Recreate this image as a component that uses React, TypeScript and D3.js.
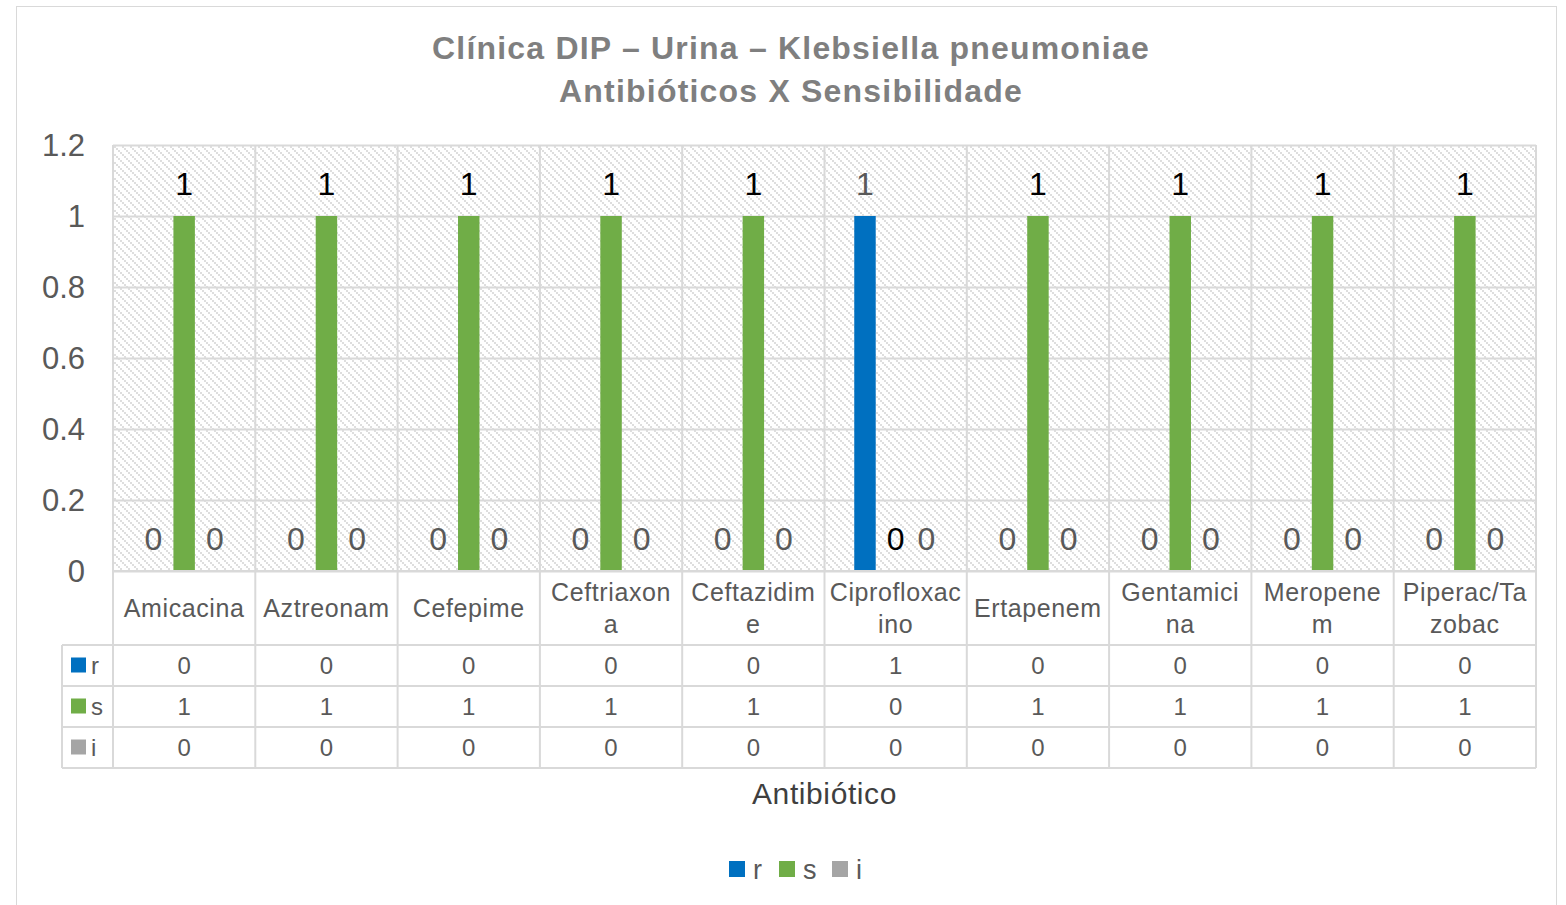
import * as d3 from 'd3';
import { useEffect, useRef } from 'react';

// chart data
const antibiotics = [
  'Amicacina', 'Aztreonam', 'Cefepime', 'Ceftriaxona', 'Ceftazidime',
  'Ciprofloxacino', 'Ertapenem', 'Gentamicina', 'Meropenem', 'Piperac/Tazobac',
];
// how the category labels wrap in the table cells
const labelLines = [
  ['Amicacina'], ['Aztreonam'], ['Cefepime'], ['Ceftriaxon', 'a'], ['Ceftazidim', 'e'],
  ['Ciprofloxac', 'ino'], ['Ertapenem'], ['Gentamici', 'na'], ['Meropene', 'm'], ['Piperac/Ta', 'zobac'],
];
const seriesNames = ['r', 's', 'i'];
const rValues = [0, 0, 0, 0, 0, 1, 0, 0, 0, 0];
const sValues = [1, 1, 1, 1, 1, 0, 1, 1, 1, 1];
const iValues = [0, 0, 0, 0, 0, 0, 0, 0, 0, 0];
const yTicks = [0, 0.2, 0.4, 0.6, 0.8, 1, 1.2];

const colors = ['#0070c0', '#70ad47', '#a5a5a5'];
const labelColors = ['#595959', '#000000', '#595959'];

export default function App() {
  const svgRef = useRef<SVGSVGElement>(null);

  useEffect(() => {
    if (!svgRef.current) return;
    const width = 1566;
    const height = 905;
    const plot = { left: 113, right: 1536, top: 145, bottom: 571 };
    const font = 'Liberation Sans, Arial, sans-serif';

    const svg = d3.select(svgRef.current)
      .attr('width', width)
      .attr('height', height);
    svg.selectAll('*').remove();

    const values = [rValues, sValues, iValues];

    // hatch pattern for the plot area
    const defs = svg.append('defs');
    const pat = defs.append('pattern')
      .attr('id', 'hatch')
      .attr('patternUnits', 'userSpaceOnUse')
      .attr('width', 8)
      .attr('height', 8);
    pat.append('rect').attr('width', 8).attr('height', 8).attr('fill', '#ffffff');
    for (let k = 0; k < 8; k += 2) {
      pat.append('rect')
        .attr('x', k).attr('y', k).attr('width', 2).attr('height', 2)
        .attr('fill', '#dedede');
    }

    // outer chart border
    svg.append('rect')
      .attr('x', 16.5).attr('y', 6.5)
      .attr('width', 1540).attr('height', 910)
      .attr('fill', '#fff')
      .attr('stroke', '#d9d9d9');

    const x = d3.scaleBand<string>()
      .domain(antibiotics)
      .range([plot.left, plot.right]);
    const groupW = 92;
    const x1 = d3.scaleBand<string>()
      .domain(seriesNames)
      .range([0, groupW])
      .paddingInner(0.3)
      .paddingOuter(0.15);
    const y = d3.scaleLinear().domain([0, 1.2]).range([plot.bottom, plot.top]);

    svg.append('rect')
      .attr('x', plot.left).attr('y', plot.top)
      .attr('width', plot.right - plot.left).attr('height', plot.bottom - plot.top)
      .attr('fill', 'url(#hatch)');

    // gridlines
    svg.append('g')
      .selectAll('line')
      .data(yTicks)
      .join('line')
      .attr('x1', plot.left).attr('x2', plot.right)
      .attr('y1', (d) => y(d) + 0.5).attr('y2', (d) => y(d) + 0.5)
      .attr('stroke', '#d9d9d9').attr('stroke-width', 2);

    const tableTop = plot.bottom;
    const headerBottom = 645;
    const rowH = 41;
    const tableBottom = headerBottom + rowH * 3;

    // vertical lines through plot and table
    const bounds = antibiotics.map((a) => x(a)!).concat([plot.right]);
    svg.append('g')
      .selectAll('line')
      .data(bounds)
      .join('line')
      .attr('x1', (d) => d).attr('x2', (d) => d)
      .attr('y1', plot.top).attr('y2', tableBottom)
      .attr('stroke', '#d9d9d9').attr('stroke-width', 2);

    // y axis labels
    svg.append('g')
      .selectAll('text')
      .data(yTicks)
      .join('text')
      .attr('x', 85)
      .attr('y', (d) => y(d))
      .attr('dy', '0.36em')
      .attr('text-anchor', 'end')
      .attr('font-family', font)
      .attr('font-size', 31)
      .attr('fill', '#595959')
      .text((d) => String(d));

    // bars
    const bars = svg.append('g');
    antibiotics.forEach((a, ci) => {
      const gx = x(a)! + (x.bandwidth() - groupW) / 2;
      seriesNames.forEach((s, si) => {
        const v = values[si][ci];
        const bx = gx + x1(s)!;
        if (v > 0) {
          bars.append('rect')
            .attr('x', bx).attr('y', y(v))
            .attr('width', x1.bandwidth()).attr('height', y(0) - y(v))
            .attr('fill', colors[si]);
        }
        bars.append('text')
          .attr('x', bx + x1.bandwidth() / 2)
          .attr('y', y(v) - 33)
          .attr('dy', '0.36em')
          .attr('text-anchor', 'middle')
          .attr('font-family', font)
          .attr('font-size', 32)
          .attr('fill', labelColors[si])
          .text(String(v));
      });
    });

    // table
    const table = svg.append('g');
    [tableTop, headerBottom, headerBottom + rowH, headerBottom + rowH * 2, tableBottom].forEach((ly, k) => {
      table.append('line')
        .attr('x1', k === 0 ? plot.left : 62).attr('x2', plot.right)
        .attr('y1', ly).attr('y2', ly)
        .attr('stroke', '#d9d9d9').attr('stroke-width', 2);
    });
    table.append('line')
      .attr('x1', 62).attr('x2', 62)
      .attr('y1', headerBottom).attr('y2', tableBottom)
      .attr('stroke', '#d9d9d9').attr('stroke-width', 2);

    antibiotics.forEach((a, ci) => {
      const cx = x(a)! + x.bandwidth() / 2;
      const lines = labelLines[ci];
      const midY = (tableTop + headerBottom) / 2;
      lines.forEach((ln, li) => {
        table.append('text')
          .attr('x', cx)
          .attr('y', midY + (li - (lines.length - 1) / 2) * 32)
          .attr('dy', '0.36em')
          .attr('text-anchor', 'middle')
          .attr('font-family', font)
          .attr('font-size', 25)
          .attr('letter-spacing', 0.6)
          .attr('fill', '#595959')
          .text(ln);
      });
      seriesNames.forEach((s, si) => {
        table.append('text')
          .attr('x', cx)
          .attr('y', headerBottom + rowH * si + rowH / 2)
          .attr('dy', '0.36em')
          .attr('text-anchor', 'middle')
          .attr('font-family', font)
          .attr('font-size', 24)
          .attr('fill', '#595959')
          .text(String(values[si][ci]));
      });
    });

    seriesNames.forEach((s, si) => {
      const ry = headerBottom + rowH * si + rowH / 2;
      table.append('rect')
        .attr('x', 71).attr('y', ry - 8).attr('width', 15).attr('height', 15)
        .attr('fill', colors[si]);
      table.append('text')
        .attr('x', 91).attr('y', ry).attr('dy', '0.36em')
        .attr('font-family', font).attr('font-size', 24)
        .attr('fill', '#595959')
        .text(s);
    });

    // axis title
    svg.append('text')
      .attr('x', (plot.left + plot.right) / 2)
      .attr('y', 793).attr('dy', '0.36em')
      .attr('text-anchor', 'middle')
      .attr('font-family', font).attr('font-size', 30)
      .attr('letter-spacing', 0.6)
      .attr('fill', '#3f3f3f')
      .text('Antibiótico');

    // title
    const title = svg.append('text')
      .attr('text-anchor', 'middle')
      .attr('font-family', font).attr('font-size', 32)
      .attr('font-weight', 'bold')
      .attr('letter-spacing', 1.2)
      .attr('fill', '#7f7f7f');
    title.append('tspan').attr('x', 791).attr('y', 59).text('Clínica DIP – Urina – Klebsiella pneumoniae');
    title.append('tspan').attr('x', 791).attr('y', 102).text('Antibióticos X Sensibilidade');

    // legend
    const legendX = [729, 779, 832];
    seriesNames.forEach((s, si) => {
      svg.append('rect')
        .attr('x', legendX[si]).attr('y', 861).attr('width', 16).attr('height', 16)
        .attr('fill', colors[si]);
      svg.append('text')
        .attr('x', legendX[si] + 24).attr('y', 869).attr('dy', '0.36em')
        .attr('font-family', font).attr('font-size', 27)
        .attr('fill', '#595959')
        .text(s);
    });
  }, []);

  return (
    <div style={{ position: 'absolute', left: 0, top: 0 }}>
      <svg ref={svgRef} style={{ display: 'block' }}></svg>
    </div>
  );
}
